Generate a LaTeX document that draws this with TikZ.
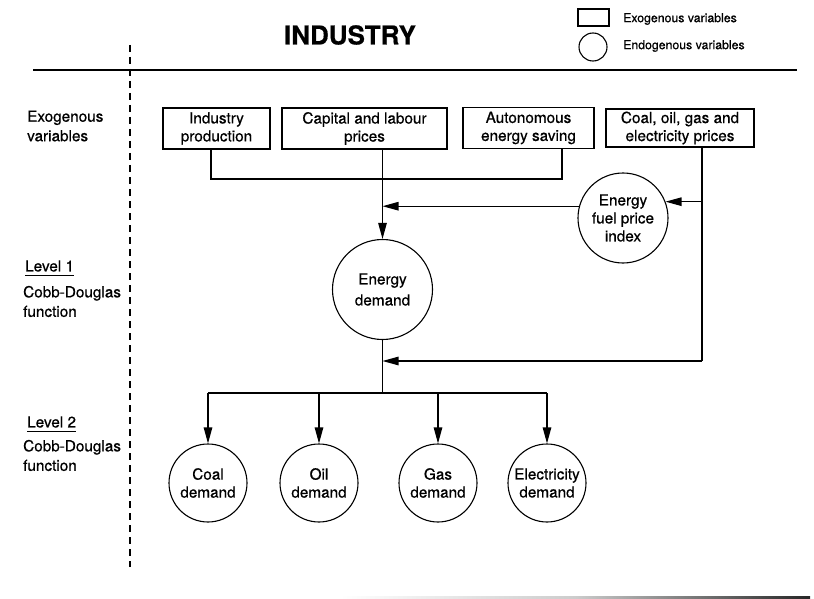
\documentclass[tikz,border=0pt]{standalone}
\usepackage{fontspec}
\setmainfont{TeX Gyre Heros}[FakeBold=0.6]
\usetikzlibrary{arrows.meta}
\begin{document}
\begin{tikzpicture}[x=1pt,y=-1pt,
  every node/.style={font=\fontsize{15.3}{18}\selectfont, inner sep=0pt},
  exo/.style={draw, line width=1.1pt, align=center, minimum height=41pt},
  endo/.style={draw, circle, line width=1.1pt, align=center},
  link/.style={line width=1.1pt},
  arr/.style={line width=1.1pt, -{Triangle[length=16pt,width=8.5pt]}},
  side/.style={anchor=west, align=left, font=\fontsize{15.3}{19.5}\selectfont},
  small/.style={anchor=west, font=\fontsize{12.3}{14}\selectfont},
]
\useasboundingbox (0,0) rectangle (814,599);

% heading, rules and legend
\node[font=\bfseries\fontsize{26}{30}\selectfont] (title) at (350,35) {INDUSTRY};
\draw[link] (33,70) -- (797,70);
\draw[line width=1.1pt, dash pattern=on 7pt off 5pt] (130,45) -- (130,567);
\node[draw, line width=1.1pt, minimum width=31pt, minimum height=17pt] (legbox) at (593.5,17.5) {};
\node[draw, circle, line width=1.1pt, minimum size=28pt] (legcirc) at (593,47) {};
\node[small] (legexo) at (623,19) {Exogenous variables};
\node[small] (legendo) at (623,46) {Endogenous variables};

% row captions on the left
\node[side] (capexo) at (27,126) {Exogenous\\variables};
\node[side] (lv1) at (25,266) {Level 1};
\draw[link] ([yshift=-3.5pt]lv1.south west) -- ([yshift=-3.5pt]lv1.south east);
\node[side] (cd1) at (23,301.5) {Cobb-Douglas\\function};
\node[side] (lv2) at (27,422) {Level 2};
\draw[link] ([yshift=-3.5pt]lv2.south west) -- ([yshift=-3.5pt]lv2.south east);
\node[side] (cd2) at (23,455.5) {Cobb-Douglas\\function};

% exogenous inputs
\node[exo, minimum width=107pt] (ind) at (216.5,128.5) {Industry\\production};
\node[exo, minimum width=165pt] (cap) at (364.5,128.5) {Capital and labour\\prices};
\node[exo, minimum width=131pt] (aut) at (528.5,128) {Autonomous\\energy saving};
\node[exo, minimum width=148pt, minimum height=38pt] (fuel) at (680,128) {Coal, oil, gas and\\electricity prices};

% endogenous variables
\node[endo, minimum size=90pt] (fpi) at (623,218) {Energy\\fuel price\\index};
\node[endo, minimum size=100pt, font=\fontsize{15.3}{21}\selectfont] (ed) at (382.5,289.5) {Energy\\demand};
\node[endo, minimum size=78pt] (coal) at (208,483) {Coal\\demand};
\node[endo, minimum size=78pt] (oil) at (319,483) {Oil\\demand};
\node[endo, minimum size=78pt] (gas) at (438,483) {Gas\\demand};
\node[endo, minimum size=78pt] (elec) at (547,483) {Electricity\\demand};

% level 1 inputs
\coordinate (inddrop) at ([xshift=-5.5pt]ind.south);
\coordinate (autdrop) at ([xshift=33.5pt]aut.south);
\coordinate (join) at (inddrop |- 0,179);
\draw[link] (inddrop) -- (join) -- (join -| autdrop) -- (autdrop);
\draw[arr] (ed.north |- cap.south) -- (ed.north);
\draw[arr] (fpi.165) -- (fpi.165 -| ed.north);
\coordinate (pdrop) at ([xshift=22pt]fuel.south);
\coordinate (pbend) at (pdrop |- 0,361);
\draw[link] (pdrop) -- (pbend);
\draw[arr] (fpi.21 -| pdrop) -- (fpi.21);
\draw[arr] (pbend) -- (pbend -| ed.south);

% level 2 split
\coordinate (bus) at (ed.south |- 0,393);
\draw[link] (ed.south) -- (bus);
\draw[link] (coal.north |- bus) -- (elec.north |- bus);
\foreach \d in {coal,oil,gas,elec}
  \draw[arr] (\d.north |- bus) -- (\d.north);

% faint edge line at the foot of the page
\shade[left color=white, right color=black!85, middle color=black!20] (340,596.5) rectangle (810,598.5);
\end{tikzpicture}
\end{document}
